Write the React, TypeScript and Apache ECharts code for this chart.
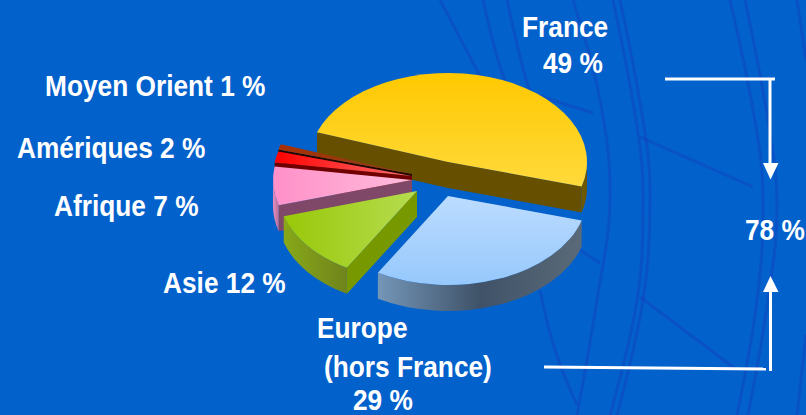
import React, { useEffect, useRef } from "react";
import * as echarts from "echarts";

const categories = ["France", "Europe (hors France)", "Asie", "Afrique", "Amériques", "Moyen Orient"];
const shares = [49, 29, 12, 7, 2, 1];
const paintOrder = [0, 5, 4, 3, 2, 1];

const START_DEG = -160.5;
const RX = 139;
const RY = 89;
const DEPTH = 26;

const sliceStyles = [
  { c: [448, 162], top: ["#ffc800", "#ffda3c", "v"], wall: ["#705a00", "#6c5600"], face: "#665000" },
  { c: [448, 196], top: ["#bcdcff", "#96c8fc", "v"], wall: ["#7496b8", "#3f5268", "#5a6a78"], face: "#506478" },
  { c: [417, 191], top: ["#98c808", "#b6dc50", "h"], wall: ["#88a818", "#70841c"], face: "#789800" },
  { c: [412, 180], top: ["#ff90c8", "#ffbcdc", "h"], wall: ["#e48cc0", "#b87098"], face: "#7f4868" },
  { c: [412, 176], top: ["#ff0000", "#ff7070", "h"], wall: ["#b00000", "#800000"], face: "#700000" },
  { c: [412, 174], top: ["#a83000", "#8a4020", "h"], wall: ["#602000", "#401000"], face: "#200800" },
];

const labels = [
  { text: "France", x: 522, y: 26 },
  { text: "49 %", x: 543, y: 62 },
  { text: "Moyen Orient 1 %", x: 45, y: 85 },
  { text: "Amériques 2 %", x: 17, y: 147 },
  { text: "Afrique 7 %", x: 54, y: 205 },
  { text: "Asie 12 %", x: 163, y: 282 },
  { text: "Europe", x: 317, y: 327 },
  { text: "(hors France)", x: 324, y: 366 },
  { text: "29 %", x: 353, y: 399 },
  { text: "78 %", x: 745, y: 229 },
];

const bgCurves: number[][][] = [
  [[440, 0], [470, 57], [490, 95]],
  [[483, 0], [500, 67], [510, 90]],
  [[507, 0], [527, 83], [535, 100]],
  [[573, 0], [600, 100], [610, 200], [597, 300], [577, 415]],
  [[613, 0], [638, 133], [643, 200], [637, 300], [610, 415]],
  [[620, 0], [645, 133], [650, 200], [643, 300], [617, 415]],
  [[730, 0], [757, 133], [763, 207], [757, 300], [737, 415]],
  [[745, 0], [770, 133], [777, 210], [768, 300], [748, 415]],
  [[797, 0], [806, 60]],
  [[806, 335], [797, 415]],
  [[540, 290], [555, 350], [577, 405]],
  [[640, 137], [753, 187]],
  [[640, 297], [737, 370]],
  [[530, 93], [593, 113]],
  [[580, 250], [600, 263]],
];

const rad = (d: number) => (d * Math.PI) / 180;
const pt = (c: number[], d: number) => [c[0] + RX * Math.cos(rad(d)), c[1] + RY * Math.sin(rad(d))];
const fmt = (p: number[], dy = 0) => `${p[0].toFixed(2)} ${(p[1] + dy).toFixed(2)}`;

function topPath(c: number[], a: number, b: number) {
  const large = b - a > 180 ? 1 : 0;
  return `M${fmt(c)} L${fmt(pt(c, a))} A${RX} ${RY} 0 ${large} 1 ${fmt(pt(c, b))} Z`;
}
function edgePath(c: number[], d: number) {
  const p = pt(c, d);
  return `M${fmt(c)} L${fmt(p)} L${fmt(p, DEPTH)} L${fmt(c, DEPTH)} Z`;
}
function wallPath(c: number[], a: number, b: number) {
  const s = pt(c, a);
  const e = pt(c, b);
  return `M${fmt(s)} A${RX} ${RY} 0 0 1 ${fmt(e)} L${fmt(e, DEPTH)} A${RX} ${RY} 0 0 0 ${fmt(s, DEPTH)} Z`;
}
function gradient(colors: string[], vertical: boolean) {
  const stops = colors.map((color, i) => ({ offset: i / (colors.length - 1), color }));
  return new echarts.graphic.LinearGradient(0, 0, vertical ? 0 : 1, vertical ? 1 : 0, stops);
}

function renderSlice(_params: any, api: any) {
  const idx = api.value(0);
  const a = START_DEG + (api.value(1) / 100) * 360;
  const b = a + (api.value(2) / 100) * 360;
  const st = sliceStyles[idx];
  const children: any[] = [];
  const path = (d: string, fill: any) => ({
    type: "path",
    shape: { pathData: d },
    style: { fill },
  });
  if (Math.cos(rad(a)) < 0) children.push(path(edgePath(st.c, a), st.face));
  if (Math.cos(rad(b)) > 0) children.push(path(edgePath(st.c, b), st.face));
  const wa = a < 0 ? Math.max(a, 0) : a;
  const wb = Math.min(b, 180);
  if (wb > wa) children.push(path(wallPath(st.c, wa, wb), gradient(st.wall, false)));
  children.push(path(topPath(st.c, a, b), gradient(st.top.slice(0, 2), st.top[2] === "v")));
  return { type: "group", children };
}

function buildOption() {
  const cumulative = shares.map((_, i) => shares.slice(0, i).reduce((s, v) => s + v, 0));
  const seriesData = paintOrder.map((i) => ({ name: categories[i], value: [i, cumulative[i], shares[i]] }));
  const white = "#ffffff";
  const graphic: any[] = [
    ...bgCurves.map((points) => ({
      type: "polyline",
      z: 0,
      silent: true,
      shape: { points, smooth: 0.4 },
      style: { stroke: "rgba(20,60,190,0.4)", lineWidth: 3, fill: "none" },
    })),
    ...labels.map((l) => ({
      type: "text",
      z: 10,
      x: l.x,
      y: l.y,
      scaleX: 0.876,
      style: {
        text: l.text,
        fill: white,
        font: 'bold 30px "Liberation Sans", Arial, sans-serif',
        textAlign: "left",
        textVerticalAlign: "middle",
      },
    })),
    { type: "polyline", z: 10, shape: { points: [[665, 79], [775, 79]] }, style: { stroke: white, lineWidth: 3, fill: "none" } },
    { type: "polyline", z: 10, shape: { points: [[770, 79], [770, 165]] }, style: { stroke: white, lineWidth: 3, fill: "none" } },
    { type: "polygon", z: 10, shape: { points: [[763, 163], [778.5, 163], [770.5, 179.5]] }, style: { fill: white } },
    { type: "polyline", z: 10, shape: { points: [[544, 367], [766, 369]] }, style: { stroke: white, lineWidth: 3, fill: "none" } },
    { type: "polyline", z: 10, shape: { points: [[770.5, 371], [770.5, 290]] }, style: { stroke: white, lineWidth: 3, fill: "none" } },
    { type: "polygon", z: 10, shape: { points: [[763, 292], [778.5, 292], [770.5, 276]] }, style: { fill: white } },
  ];
  return {
    animation: false,
    backgroundColor: "#0361cc",
    graphic,
    series: [
      {
        type: "custom",
        coordinateSystem: "none",
        renderItem: renderSlice,
        clip: false,
        silent: true,
        z: 5,
        data: seriesData,
      },
    ],
  };
}

export default function App() {
  const ref = useRef<HTMLDivElement>(null);
  useEffect(() => {
    document.body.style.margin = "0";
    document.body.style.overflow = "hidden";
    const chart = echarts.init(ref.current!, undefined, { renderer: "svg" });
    chart.setOption(buildOption() as any);
    return () => chart.dispose();
  }, []);
  return <div ref={ref} style={{ width: 806, height: 415 }} />;
}
